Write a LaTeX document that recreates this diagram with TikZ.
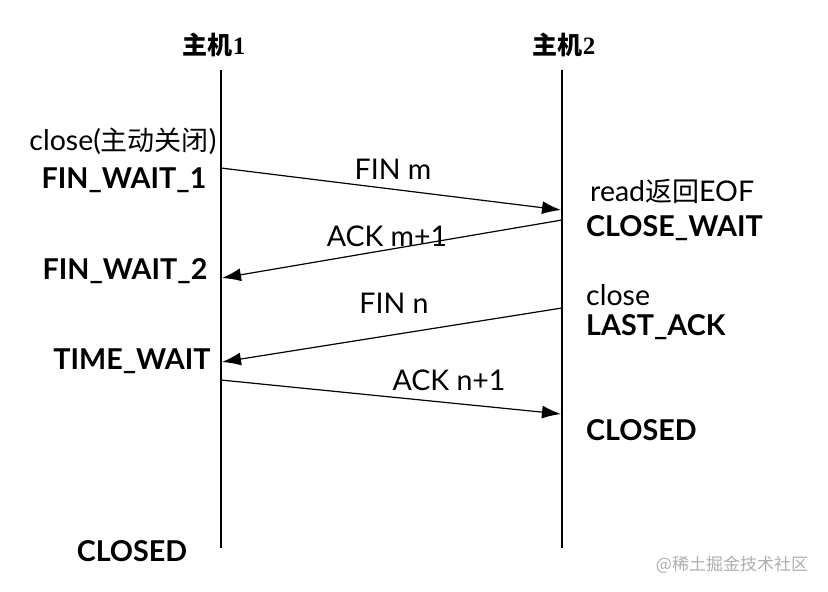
\documentclass[tikz,border=0pt]{standalone}
\usepackage{fontspec}
\setmainfont{Lato}
\newfontfamily\cjk{Noto Sans CJK SC}
\newfontfamily\hdserif{Liberation Serif}
\usetikzlibrary{arrows.meta}
\newcommand{\cjkin}[1]{{\fontsize{27}{30}\selectfont\cjk #1}}
\begin{document}
\begin{tikzpicture}[x=1pt,y=-1pt,
  lifeline/.style={line width=1.2pt},
  msg/.style={line width=1.2pt,-{Latex[length=19pt,width=13pt]}},
  hdr/.style={font=\fontsize{25}{28}\selectfont\cjk\bfseries},
  state/.style={font=\fontsize{28.7}{32}\selectfont\bfseries,inner sep=0pt},
  note/.style={font=\fontsize{28.5}{32}\selectfont,inner sep=0pt},
  lbl/.style={font=\fontsize{28.5}{32}\selectfont,inner sep=0pt},
  wm/.style={font=\fontsize{17}{20}\selectfont\cjk,text=black!32,inner sep=0pt}]
\useasboundingbox (0,0) rectangle (828,592);
% lifelines
\coordinate (h1top) at (221,70);
\coordinate (h1bot) at (221,548);
\coordinate (h2top) at (562,70);
\coordinate (h2bot) at (562,548);
\draw[lifeline] (h1top) -- (h1bot);
\draw[lifeline] (h2top) -- (h2bot);
% headers
\node[hdr,inner sep=0pt] (hd1) at (214,45) {主机{\hdserif 1}};
\node[hdr,inner sep=0pt] (hd2) at (564,45) {主机{\hdserif 2}};
% left states
\node[note] (c1) at (123,141) {close(\cjkin{主动关闭})};
\node[state] (fw1) at (124,180) {FIN\_WAIT\_1};
\node[state] (fw2) at (125,271) {FIN\_WAIT\_2};
\node[state] (tw) at (132,361) {TIME\_WAIT};
\node[state] (cl1) at (132,551) {CLOSED};
% right states
\node[note,anchor=west] (rd) at (590,191) {read\cjkin{返回}EOF};
\node[state,anchor=west] (cw) at (586,228) {CLOSE\_WAIT};
\node[note,anchor=west] (c2) at (586,295) {close};
\node[state,anchor=west] (la) at (586,327) {LAST\_ACK};
\node[state,anchor=west] (cl2) at (586,430) {CLOSED};
% message endpoints
\coordinate (a1s) at (221,168);
\coordinate (a1e) at (561,210);
\coordinate (a2s) at (562,220);
\coordinate (a2e) at (222,278);
\coordinate (a3s) at (562,308);
\coordinate (a3e) at (222,362);
\coordinate (a4s) at (221,380);
\coordinate (a4e) at (561,414);
\draw[msg] (a1s) -- (a1e);
\draw[msg] (a2s) -- (a2e);
\draw[msg] (a3s) -- (a3e);
\draw[msg] (a4s) -- (a4e);
% labels
\node[lbl] (l1) at (393,169) {FIN m};
\node[lbl] (l2) at (387,236) {ACK m+1};
\node[lbl] (l3) at (394,303) {FIN n};
\node[lbl] (l4) at (449,380) {ACK n+1};
% watermark
\node[wm] (wmk) at (732,565) {@稀土掘金技术社区};
\end{tikzpicture}
\end{document}
